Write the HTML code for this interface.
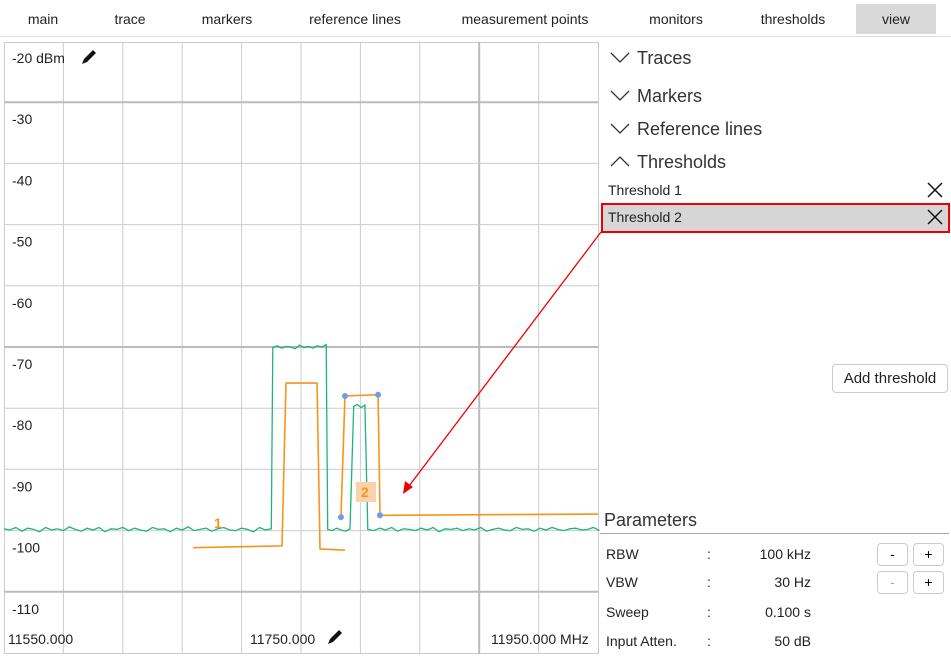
<!DOCTYPE html>
<html><head><meta charset="utf-8"><style>
body{margin:0;width:951px;height:656px;background:#fff;font-family:"Liberation Sans",sans-serif;overflow:hidden;position:relative}
.tab{position:absolute;top:0;height:36px;line-height:38px;font-size:14px;color:#222;text-align:center}
.abs{position:absolute}
.sec{position:absolute;left:637px;font-size:18px;color:#333}
.chev{position:absolute;left:610px}
.btn{position:absolute;border:1px solid #ccc;border-radius:4px;background:#fff;text-align:center;font-size:14px}
.prm{position:absolute;font-size:14px;color:#222}
</style></head><body>
<div class="abs" style="left:0;top:0;width:951px;height:36px;border-bottom:1px solid #ddd"></div>
<div class="tab" style="left:13px;width:60px">main</div>
<div class="tab" style="left:100px;width:60px">trace</div>
<div class="tab" style="left:187px;width:80px">markers</div>
<div class="tab" style="left:295px;width:120px">reference lines</div>
<div class="tab" style="left:445px;width:160px">measurement points</div>
<div class="tab" style="left:636px;width:80px">monitors</div>
<div class="tab" style="left:748px;width:90px">thresholds</div>
<div class="tab" style="left:856px;width:80px;top:4px;height:30px;line-height:31px;background:#d9d9d9">view</div>

<svg id="chart" class="abs" style="left:0;top:0" width="951" height="656"></svg>

<svg class="chev" style="top:52px" width="20" height="12"><polyline points="1,1 10,10 19,1" fill="none" stroke="#333" stroke-width="1.3"/></svg>
<div class="sec" style="top:48px">Traces</div>
<svg class="chev" style="top:90px" width="20" height="12"><polyline points="1,1 10,10 19,1" fill="none" stroke="#333" stroke-width="1.3"/></svg>
<div class="sec" style="top:86px">Markers</div>
<svg class="chev" style="top:123px" width="20" height="12"><polyline points="1,1 10,10 19,1" fill="none" stroke="#333" stroke-width="1.3"/></svg>
<div class="sec" style="top:119px">Reference lines</div>
<svg class="chev" style="top:155px" width="20" height="12"><polyline points="1,11 10,2 19,11" fill="none" stroke="#333" stroke-width="1.3"/></svg>
<div class="sec" style="top:152px">Thresholds</div>
<div class="abs" style="left:608px;top:182px;font-size:14px;color:#222">Threshold 1</div>
<svg class="abs" style="left:927px;top:182px" width="16" height="16"><path d="M1 1L15 15M15 1L1 15" stroke="#111" stroke-width="1.5"/></svg>
<div class="abs" style="left:601px;top:203px;width:345px;height:26px;background:#d6d6d6;border:2px solid #e00"></div>
<div class="abs" style="left:608px;top:209px;font-size:14px;color:#222">Threshold 2</div>
<svg class="abs" style="left:927px;top:209px" width="16" height="16"><path d="M1 1L15 15M15 1L1 15" stroke="#111" stroke-width="1.5"/></svg>
<div class="btn" style="left:832px;top:364px;width:114px;height:27px;line-height:27px;font-size:15px;color:#222">Add threshold</div>

<div class="abs" style="left:604px;top:510px;font-size:18px;color:#333">Parameters</div>
<div class="abs" style="left:600px;top:533px;width:349px;height:1px;background:#aaa"></div>
<div class="prm" style="left:606px;top:546px">RBW</div>
<div class="prm" style="left:707px;top:546px">:</div>
<div class="prm" style="left:740px;top:546px;width:71px;text-align:right">100 kHz</div>
<div class="prm" style="left:606px;top:574px">VBW</div>
<div class="prm" style="left:707px;top:574px">:</div>
<div class="prm" style="left:740px;top:574px;width:71px;text-align:right">30 Hz</div>
<div class="prm" style="left:606px;top:604px">Sweep</div>
<div class="prm" style="left:707px;top:604px">:</div>
<div class="prm" style="left:740px;top:604px;width:71px;text-align:right">0.100 s</div>
<div class="prm" style="left:606px;top:633px">Input Atten.</div>
<div class="prm" style="left:707px;top:633px">:</div>
<div class="prm" style="left:740px;top:633px;width:71px;text-align:right">50 dB</div>
<div class="btn" style="left:877px;top:543px;width:29px;height:21px;line-height:21px">-</div>
<div class="btn" style="left:913px;top:543px;width:29px;height:21px;line-height:21px">+</div>
<div class="btn" style="left:877px;top:571px;width:29px;height:21px;line-height:21px;color:#aaa">-</div>
<div class="btn" style="left:913px;top:571px;width:29px;height:21px;line-height:21px">+</div>

<script>
// ---- data ----
const yTicks = [-20,-30,-40,-50,-60,-70,-80,-90,-100,-110];
const xTickLabels = ["11550.000","11750.000","11950.000 MHz"];
const noiseA = [-99.7,-99.9,-99.5,-100.1,-99.6,-99.8,-100.2,-99.5,-99.9,-99.7,-100.0,-99.4,-99.8,-100.1,-99.6,-99.9,-99.5,-100.2,-99.7,-99.8,-99.5,-100.0,-99.6,-99.9,-100.1,-99.5,-99.8,-99.7,-100.2,-99.6,-99.9,-99.4,-100.0,-99.8,-99.6,-100.1,-99.7,-99.5,-99.9,-100.0,-99.6,-99.8,-100.2,-99.5,-99.9,-99.7];
const peak1 = [-70.1,-69.8,-70.2,-69.9,-70.0,-70.3,-69.7,-70.1,-69.9,-70.2,-69.8,-70.0,-69.6];
const noiseB = [-99.8,-100.0,-99.6,-99.9,-100.1,-99.7];
const peak2 = [-79.7,-79.4,-79.9,-79.5];
const noiseC = [-99.8,-100.0,-99.6,-99.9,-99.5,-100.1,-99.7,-99.8,-100.0,-99.6,-99.9,-99.5,-100.2,-99.7,-99.8,-99.6,-100.0,-99.7,-99.9,-99.5,-100.1,-99.8,-99.6,-99.9,-100.0,-99.5,-99.8,-99.7,-100.1,-99.6,-99.9,-99.5,-99.8,-100.0,-99.7,-99.6,-99.9,-99.8,-99.5,-100.0];
const segStart = [11550, 11731, 11768, 11785.5, 11795];
const segStep = [4, 3, 3, 2.5, 4];
const th1Freq = [11677.3,11737.2,11739.9,11760.8,11762.8,11779.6];
const th1Level = [-102.8,-102.5,-75.9,-75.9,-103.0,-103.2];
const th2Freq = [11776.9,11779.6,11801.9,11803.2,11950];
const th2Level = [-97.8,-78.0,-77.8,-97.5,-97.3];

// ---- axes ----
const X0=4,X1=598,FMIN=11550,FMAX=11950;
const fx=f=>X0+(f-FMIN)/(FMAX-FMIN)*(X1-X0);
const yv=v=>41+(-20-v)*6.12;
const NS="http://www.w3.org/2000/svg";
const svg=document.getElementById('chart');
function mk(t,a){const e=document.createElementNS(NS,t);for(const k in a)e.setAttribute(k,a[k]);svg.appendChild(e);return e;}

let e=mk('rect',{x:4.5,y:42.5,width:594,height:611,fill:'none',stroke:'#ccc'});


for(let i=1;i<10;i++){
  const x=X0+i*(X1-X0)/10;
  e=mk('line',{x1:x,x2:x,y1:42,y2:654,stroke:i==8?'#bbb':'#ccc','stroke-width':i==8?2:1});
  
  
}
yTicks.forEach((v,i)=>{
  if(i>0){
    const y=yv(v);
    e=mk('line',{x1:4,x2:598,y1:y,y2:y,stroke:(v==-30||v==-70||v==-110)?'#bbb':'#ccc','stroke-width':(v==-30||v==-70||v==-110)?2:1});
    
    
  }
  e=mk('text',{x:12,y:(i==0?63:yv(v)+22),'font-size':14,fill:'#222','font-family':'Liberation Sans'});
  e.textContent=i==0?v+' dBm':String(v);
  
  
});
[8,250,491].forEach((x,i)=>{
  e=mk('text',{x:x,y:644,'font-size':14,fill:'#222','font-family':'Liberation Sans'});
  e.textContent=xTickLabels[i];
  
  
});
function pencil(x,y,name){
  e=mk('path',{d:`M${x} ${y+14}l2-5 9-9 3 3-9 9z`,fill:'#111'});
  
  
}
pencil(82,50,'edit-ref-level-icon');
pencil(328,630,'edit-center-freq-icon');

// trace
const segs=[noiseA,peak1,noiseB,peak2,noiseC];
let pts=[];
segs.forEach((s,k)=>s.forEach((v,i)=>pts.push([fx(segStart[k]+i*segStep[k]),yv(v)])));
e=mk('polyline',{points:pts.map(p=>p[0].toFixed(1)+','+p[1].toFixed(1)).join(' '),fill:'none',stroke:'#1fb37f','stroke-width':1.3});



// thresholds
e=mk('polyline',{points:th1Freq.map((f,i)=>fx(f)+','+yv(th1Level[i])).join(' '),fill:'none',stroke:'#f7941d','stroke-width':1.6});


e=mk('text',{x:214,y:528,'font-size':14,'font-weight':'bold',fill:'#f7941d','font-family':'Liberation Sans'});
e.textContent='1';


e=mk('rect',{x:356,y:482,width:20,height:20,fill:'#fbd2aa'});


e=mk('polyline',{points:th2Freq.map((f,i)=>fx(f)+','+yv(th2Level[i])).join(' '),fill:'none',stroke:'#f7941d','stroke-width':1.6});


e=mk('text',{x:361,y:497,'font-size':14,'font-weight':'bold',fill:'#f7941d','font-family':'Liberation Sans'});
e.textContent='2';


th2Freq.slice(0,4).forEach((f,i)=>{
  e=mk('circle',{cx:fx(f),cy:yv(th2Level[i]),r:3,fill:'#6d9eeb'});
  
  
});
// arrow
e=mk('line',{x1:601,y1:232,x2:406,y2:490,stroke:'#e00','stroke-width':1.3});


e=mk('path',{d:'M403 494 L405 481 L413 487 Z',fill:'#e00'});


</script>
</body></html>
